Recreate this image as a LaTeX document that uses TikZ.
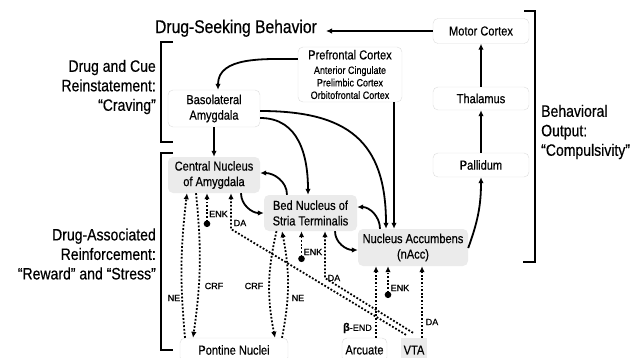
\documentclass[tikz,border=0pt]{standalone}
\usepackage{fontspec}
\setmainfont[FakeStretch=0.85,FakeBold=0.5]{Liberation Sans}
\newfontfamily\chemfam[FakeBold=0.6]{Liberation Sans}
\usetikzlibrary{positioning,arrows.meta}

\definecolor{boxgray}{HTML}{EBEBEB}
\definecolor{rimgray}{HTML}{DCDCDC}

\newcommand{\headfont}{\fontsize{18.4}{20}\selectfont}
\newcommand{\sidefont}{\fontsize{16.5}{19.5}\selectfont}
\newcommand{\boxfont}{\fontsize{13}{15.5}\selectfont}
\newcommand{\subfont}{\fontsize{10.6}{12.5}\selectfont}
\newcommand{\chemfont}{\chemfam\fontsize{9}{10}\selectfont}

\tikzset{
box/.style={draw=rimgray, fill=white, rounded corners=5pt, align=center, font=\boxfont, inner sep=0pt},
shaded/.style={box, draw=none, fill=boxgray},
wire/.style={line width=1.8pt, -{Latex[length=6pt,width=5.5pt]}},
dotwire/.style={line width=1.8pt, dash pattern=on 1.8pt off 1.8pt, -{Latex[length=6pt,width=5.5pt]}},
enkwire/.style={dotwire, {Circle[length=6.5pt]}-{Latex[length=6pt,width=5.5pt]}},
brace/.style={line width=2.4pt},
side/.style={font=\sidefont, inner sep=0pt},
chem/.style={font=\chemfont, inner sep=0pt}
}

\begin{document}
\begin{tikzpicture}[x=1pt,y=-1pt]
\clip (0,0) rectangle (635,357);

% titles and brackets
\node[font=\headfont, inner sep=0pt, anchor=base] (head) at (236,33) {Drug-Seeking Behavior};
\node[side, align=right, anchor=east] (crave) at (156,87) {Drug and Cue\\Reinstatement:\\“Craving”};
\node[side, align=right, anchor=east] (reward) at (156,254) {Drug-Associated\\Reinforcement:\\“Reward” and “Stress”};
\node[side, align=left, anchor=west] (compul) at (541,132) {Behavioral\\Output:\\“Compulsivity”};
\draw[brace] (173,42) -- (161,42) -- (161,142) -- (173,142);
\draw[brace] (173,153) -- (161,153) -- (161,350) -- (173,350);
\draw[brace] (524,11) -- (535,11) -- (535,262) -- (523,262);

% regions
\node[box, minimum width=96pt, minimum height=25pt] (motor) at (481,31) {Motor Cortex};
\node[box, minimum width=96pt, minimum height=23pt] (thal) at (481,98.5) {Thalamus};
\node[box, minimum width=96pt, minimum height=24pt] (pall) at (481,165) {Pallidum};
\node[box, minimum width=104pt, minimum height=55pt] (pfc) at (350,74.5) {Prefrontal Cortex\\[-1pt]{\subfont Anterior Cingulate}\\[-3pt]{\subfont Prelimbic Cortex}\\[-3pt]{\subfont Orbitofrontal Cortex}};
\node[box, minimum width=92pt, minimum height=37pt] (bla) at (214,108.5) {Basolateral\\Amygdala};
\node[shaded, minimum width=92pt, minimum height=36pt] (cea) at (214,175) {Central Nucleus\\of Amygdala};
\node[shaded, minimum width=93pt, minimum height=36pt] (bnst) at (310.5,213) {Bed Nucleus of\\Stria Terminalis};
\node[shaded, minimum width=110pt, minimum height=37pt] (nacc) at (413,247.5) {Nucleus Accumbens\\(nAcc)};
\node[box, minimum width=108pt, minimum height=24pt] (pont) at (234,350) {Pontine Nuclei};
\node[box, minimum width=45pt, minimum height=24pt] (arc) at (364.5,350) {Arcuate};
\node[shaded, rounded corners=0pt, minimum width=26pt, minimum height=24pt] (vta) at (414,350) {VTA};

% output loop
\draw[wire, shorten >=9pt] (motor.west) -- (motor.west -| head.east);
\foreach \a/\b in {thal/motor, pall/thal}
  \draw[wire] (\a.north) -- (\b.south);
\draw[wire] ([yshift=-0.5pt]nacc.east) to[out=70,in=-90] (pall.south);

% cortical and amygdala inputs
\draw[wire] ([yshift=15.5pt]pfc.west) to[out=180,in=90] ([xshift=4pt]bla.north);
\draw[wire] (bla.south) -- (cea.north);
\coordinate (nin) at ([xshift=-19pt]nacc.north);
\draw[wire] (pfc.south -| nin) -- (nin);
\draw[wire] ([yshift=-2.5pt]bla.east) to[out=0,in=90,looseness=1.3] ([xshift=-27pt]nacc.north);
\draw[wire] ([yshift=-9.5pt]bla.east) to[out=0,in=90,looseness=1.1] ([xshift=-2.5pt]bnst.north);
\draw[wire] ([xshift=-23.5pt]bnst.north) to[out=90,in=0] ([yshift=2pt]cea.east);
\draw[wire] ([xshift=27pt]cea.south) to[out=-90,in=180] (bnst.west);
\draw[wire] ([xshift=-33pt]nacc.north) to[out=90,in=0] ([yshift=6pt]bnst.east);
\draw[wire] ([xshift=24.5pt]bnst.south) to[out=-90,in=180] ([yshift=-2.5pt]nacc.west);

% pontine projections
\draw[dotwire] ([xshift=-49pt]pont.north) to[bend left=6] ([xshift=-27pt]cea.south);
\draw[dotwire] ([xshift=-18pt]cea.south) to[bend left=7] ([xshift=-41pt]pont.north);
\draw[dotwire] ([xshift=-34pt]bnst.south) to[bend right=12] ([xshift=41pt]pont.north);
\draw[dotwire] ([xshift=48pt]pont.north) to[bend right=11] ([xshift=-28.5pt]bnst.south);
\node[chem] (ne1) at (174,298) {NE};
\node[chem] (crf1) at (214,286) {CRF};
\node[chem] (crf2) at (254,286) {CRF};
\node[chem] (ne2) at (298,298) {NE};

% enkephalin
\coordinate (enk1) at (207,227);
\coordinate (enk2) at (301.5,262);
\coordinate (enk3) at (388,298);
\draw[enkwire] (enk1) -- (enk1 |- cea.south);
\draw[enkwire] (enk2) -- (enk2 |- bnst.south);
\draw[enkwire] (enk3) -- (enk3 |- nacc.south);
\node[chem] (lenk1) at (218.5,214) {ENK};
\node[chem] (lenk2) at (313,252) {ENK};
\node[chem] (lenk3) at (400,288) {ENK};

% dopamine and endorphin
\coordinate (da1) at (231,229);
\coordinate (da2) at (325,278);
\draw[dotwire] ([xshift=-8pt,yshift=3pt]vta.north) -- (da1) -- (da1 |- cea.south);
\draw[dotwire] ([xshift=-1pt,yshift=5pt]vta.north) -- (da2) -- (da2 |- bnst.south);
\coordinate (da3) at ([xshift=9pt]nacc.south);
\draw[dotwire] (vta.north -| da3) -- (da3);
\coordinate (bend) at ([xshift=-37pt]nacc.south);
\draw[dotwire] (arc.north -| bend) -- (bend);
\node[chem] (lda1) at (240,223) {DA};
\node[chem] (lda2) at (334,278) {DA};
\node[chem] (lda3) at (432,322) {DA};
\node[chem] (lbend) at (357.5,328) {{\fontsize{11}{11}\selectfont\textbf{β}}-END};
\end{tikzpicture}
\end{document}
